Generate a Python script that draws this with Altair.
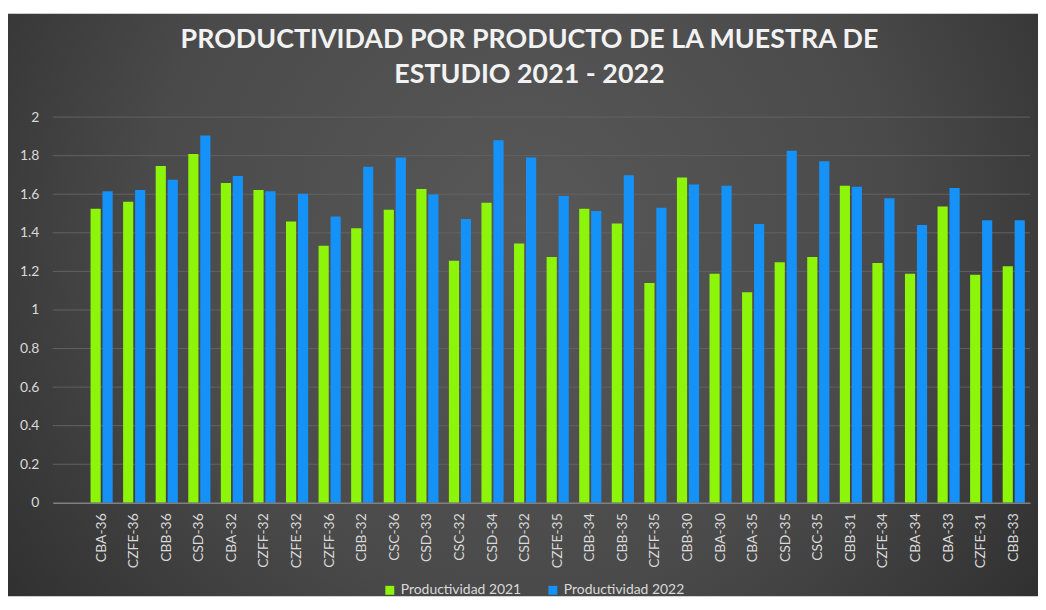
import altair as alt
import pandas as pd

categories = ["CBA-36", "CZFE-36", "CBB-36", "CSD-36", "CBA-32", "CZFF-32", "CZFE-32",
              "CZFF-36", "CBB-32", "CSC-36", "CSD-33", "CSC-32", "CSD-34", "CSD-32",
              "CZFE-35", "CBB-34", "CBB-35", "CZFF-35", "CBB-30", "CBA-30", "CBA-35",
              "CSD-35", "CSC-35", "CBB-31", "CZFE-34", "CBA-34", "CBA-33", "CZFE-31", "CBB-33"]
prod_2021 = [1.525, 1.561, 1.747, 1.809, 1.658, 1.622, 1.458, 1.333, 1.424, 1.520, 1.627,
             1.255, 1.556, 1.345, 1.274, 1.525, 1.448, 1.140, 1.687, 1.188, 1.092, 1.248,
             1.274, 1.644, 1.243, 1.188, 1.537, 1.183, 1.226]
prod_2022 = [1.615, 1.622, 1.675, 1.904, 1.694, 1.615, 1.603, 1.484, 1.742, 1.790, 1.598,
             1.472, 1.880, 1.790, 1.591, 1.513, 1.699, 1.530, 1.651, 1.644, 1.446, 1.826,
             1.771, 1.639, 1.579, 1.441, 1.632, 1.465, 1.465]
series = ["Productividad 2021", "Productividad 2022"]
colors = ["#8CF50A", "#1592F8"]
y_ticks = [0, 0.2, 0.4, 0.6, 0.8, 1, 1.2, 1.4, 1.6, 1.8, 2]

rows = []
for c, a, b in zip(categories, prod_2021, prod_2022):
    rows.append({"cat": c, "serie": series[0], "val": a})
    rows.append({"cat": c, "serie": series[1], "val": b})
df = pd.DataFrame(rows)

W, H = 983, 388
PAD_L, PAD_T, PAD_R, PAD_B = 45, 108, 8, 94
FONT = "Lato"
LABEL = "#d9d9d9"

yscale = alt.Scale(domain=[0, 2])
yaxis = alt.Axis(
    title=None, values=y_ticks, format=".1~f", labelFont=FONT, labelFontSize=14,
    labelColor=LABEL, labelPadding=14, ticks=False, domain=False, grid=False,
    zindex=1,
)

bg = alt.Chart(alt.Data(values=[{}])).mark_rect(
    fill={
        "gradient": "radial",
        "x1": 0.5, "y1": 0.42, "r1": 0,
        "x2": 0.5, "y2": 0.42, "r2": 0.72,
        "stops": [
            {"offset": 0, "color": "#585858"},
            {"offset": 0.5, "color": "#4a4a4a"},
            {"offset": 1, "color": "#262626"},
        ],
    }
).encode(
    x=alt.value(-PAD_L), x2=alt.value(W + PAD_R),
    y=alt.value(-104), y2=alt.value(H + PAD_B),
)

grid = alt.Chart(pd.DataFrame({"v": y_ticks[1:]})).mark_rule(
    color="#626262", strokeWidth=1
).encode(
    y=alt.Y("v:Q", scale=yscale, axis=yaxis),
    x=alt.value(0), x2=alt.value(W),
)

bars = alt.Chart(df).mark_bar().encode(
    x=alt.X(
        "cat:N",
        sort=None,
        scale=alt.Scale(domain=[" "] + categories, paddingInner=0.32, paddingOuter=0.16),
        axis=alt.Axis(
            title=None, labelAngle=-90, labelAlign="right", labelBaseline="middle",
            labelFont=FONT, labelFontSize=14, labelColor=LABEL, labelPadding=10,
            ticks=False, domain=True, domainColor="#808080", domainWidth=1.5,
            grid=False, zindex=1,
        ),
    ),
    xOffset=alt.XOffset("serie:N", sort=series, scale=alt.Scale(paddingInner=0.15)),
    y=alt.Y("val:Q", scale=yscale, axis=yaxis),
    color=alt.Color(
        "serie:N",
        scale=alt.Scale(domain=series, range=colors),
        legend=alt.Legend(
            title=None, orient="none", direction="horizontal", legendX=332, legendY=469,
            symbolType="square", symbolSize=81, symbolStrokeWidth=0,
            labelFont=FONT, labelFontSize=14, labelColor=LABEL, labelOffset=4,
            columnPadding=24, padding=0, zindex=1,
        ),
    ),
)

chart = alt.layer(bg, grid, bars).properties(
    width=W, height=H,
    padding={"left": PAD_L, "top": PAD_T, "right": PAD_R, "bottom": PAD_B},
    autosize=alt.AutoSizeParams(type="none"),
    background="white",
    title=alt.TitleParams(
        text=["PRODUCTIVIDAD POR PRODUCTO DE LA MUESTRA DE", "ESTUDIO 2021 - 2022"],
        font=FONT, fontSize=27, fontWeight="bold", color="#f2f2f2",
        anchor="middle", frame="group", dx=-12, lineHeight=35, offset=-76, zindex=1,
    ),
).configure_view(stroke=None)

chart.save("out.html", embed_options={"renderer": "svg", "actions": False})
